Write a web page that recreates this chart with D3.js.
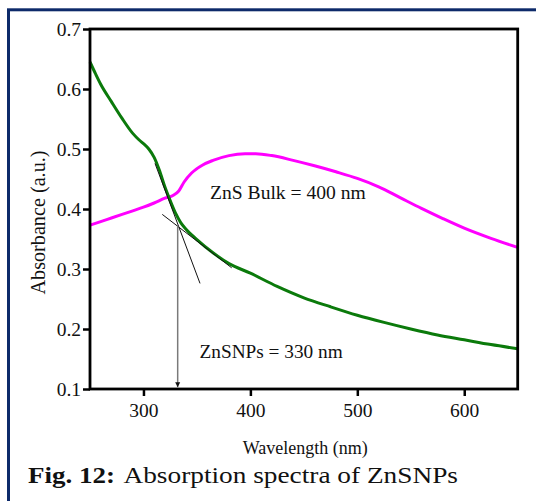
<!DOCTYPE html>
<html>
<head>
<meta charset="utf-8">
<script src="https://cdn.jsdelivr.net/npm/d3@7"></script>
<style>
  html, body { margin: 0; padding: 0; background: #fff; }
  svg { display: block; }
</style>
</head>
<body>
<svg id="chart" width="536" height="501"></svg>
<script>
// ---- data ----
const wavelengthNano = [250,255,260,270,280,290,296,300,305,310,315,320,325,330,335,340,350,365,380,400,425,450,475,500,525,550,575,600,625,650];
const absorbNano     = [0.645,0.626,0.608,0.579,0.551,0.526,0.515,0.509,0.500,0.486,0.464,0.437,0.414,0.393,0.377,0.366,0.349,0.327,0.309,0.293,0.271,0.252,0.237,0.223,0.211,0.200,0.190,0.182,0.174,0.167];

const wavelengthBulk = [250,260,270,280,290,300,310,320,328,333,338,345,355,365,380,395,405,420,440,460,480,500,520,540,560,580,600,625,650];
const absorbBulk     = [0.373,0.379,0.385,0.391,0.397,0.403,0.410,0.418,0.423,0.430,0.445,0.460,0.473,0.481,0.489,0.492,0.492,0.489,0.481,0.472,0.462,0.451,0.437,0.419,0.401,0.384,0.368,0.351,0.336];

const tangentSteep   = [[310.8,0.476],[352.9,0.276]];
const tangentShallow = [[317.6,0.391],[382.5,0.302]];
const gapArrow       = [[332,0.372],[332,0.103]];

const yTicks = [0.1,0.2,0.3,0.4,0.5,0.6,0.7];
const xTicks = [300,400,500,600];

const labelBulk = "ZnS Bulk = 400 nm";
const labelNano = "ZnSNPs = 330 nm";
const xTitle = "Wavelength (nm)";
const yTitle = "Absorbance (a.u.)";
const captionBold = "Fig. 12:";
const captionText = "Absorption spectra of ZnSNPs";

// ---- drawing ----
const FONT = "Liberation Serif";
const svg = d3.select("#chart");
svg.append("rect").attr("width",536).attr("height",501).attr("fill","#fff");

// outer navy frame (only top and left visible)
svg.append("rect").attr("x",8.5).attr("y",9.8).attr("width",700).attr("height",700)
  .attr("fill","none").attr("stroke","#0d2a6a").attr("stroke-width",3);

const x = d3.scaleLinear().domain([250,650]).range([90,517.7]);
const y = d3.scaleLinear().domain([0.1,0.7]).range([389,29]);

// axes
const gy = svg.append("g").attr("transform","translate(90,0)")
  .call(d3.axisLeft(y).tickValues(yTicks).tickSize(7).tickPadding(2).tickFormat(d3.format(".1f")));
const gx = svg.append("g").attr("transform","translate(0,389)")
  .call(d3.axisBottom(x).tickValues(xTicks).tickSize(7).tickPadding(7).tickFormat(d3.format("d")));
[gx,gy].forEach(g=>{
  g.attr("font-family",FONT);
  g.select(".domain").remove();
  g.selectAll(".tick line").attr("stroke","#000").attr("stroke-width",2.5);
  g.selectAll(".tick text").style("font-family",FONT).style("font-size","19.5px")
    .attr("fill","#111");
});
gy.selectAll(".tick text").attr("dy","0.34em");

// curves
const line = d3.line().x(d=>x(d[0])).y(d=>y(d[1])).curve(d3.curveMonotoneX);
svg.append("path").datum(wavelengthBulk.map((w,i)=>[w,absorbBulk[i]]))
  .attr("d",line).attr("fill","none").attr("stroke","#ff00ff").attr("stroke-width",3);
svg.append("path").datum(wavelengthNano.map((w,i)=>[w,absorbNano[i]]))
  .attr("d",line).attr("fill","none").attr("stroke","#0b7a0b").attr("stroke-width",3);

// tangent lines
const straight = d3.line().x(d=>x(d[0])).y(d=>y(d[1]));
[tangentSteep,tangentShallow].forEach(t=>{
  svg.append("path").datum(t).attr("d",straight).attr("stroke","#111").attr("stroke-width",1).attr("fill","none");
});

// arrow
svg.append("defs").append("marker").attr("id","arr").attr("viewBox","0 0 10 10")
  .attr("refX",10).attr("refY",5).attr("markerWidth",5).attr("markerHeight",8)
  .attr("markerUnits","userSpaceOnUse").attr("orient","auto")
  .append("path").attr("d","M0,0 L10,5 L0,10 Z").attr("fill","#111");
svg.append("path").datum(gapArrow).attr("d",straight).attr("stroke","#7a7a7a")
  .attr("stroke-width",1.5).attr("fill","none").attr("marker-end","url(#arr)");

// plot frame
svg.append("rect").attr("x",x(250)).attr("y",y(0.7)).attr("width",x(650)-x(250)).attr("height",y(0.1)-y(0.7))
  .attr("fill","none").attr("stroke","#000").attr("stroke-width",2.8);

function txt(sel){ return sel.style("font-family",FONT).attr("fill","#111"); }

// annotations
txt(svg.append("text")).attr("x",210).attr("y",198.5).style("font-size","19.6px").text(labelBulk);
txt(svg.append("text")).attr("x",199.5).attr("y",357.5).style("font-size","19.3px").text(labelNano);

// axis titles
txt(svg.append("text")).attr("x",242.7).attr("y",453.5).style("font-size","18px").text(xTitle);
txt(svg.append("text")).attr("transform","translate(45,222.5) rotate(-90)").attr("text-anchor","middle")
  .style("font-size","20.2px").text(yTitle);

// caption (glyphs widened to match the wider caption face)
txt(svg.append("text")).attr("x",28).attr("y",483).style("font-size","24px").style("font-weight","bold")
  .attr("textLength",87).attr("lengthAdjust","spacingAndGlyphs").text(captionBold);
txt(svg.append("text")).attr("x",123.5).attr("y",483).style("font-size","24px")
  .attr("textLength",334.5).attr("lengthAdjust","spacingAndGlyphs").text(captionText);
</script>
</body>
</html>
